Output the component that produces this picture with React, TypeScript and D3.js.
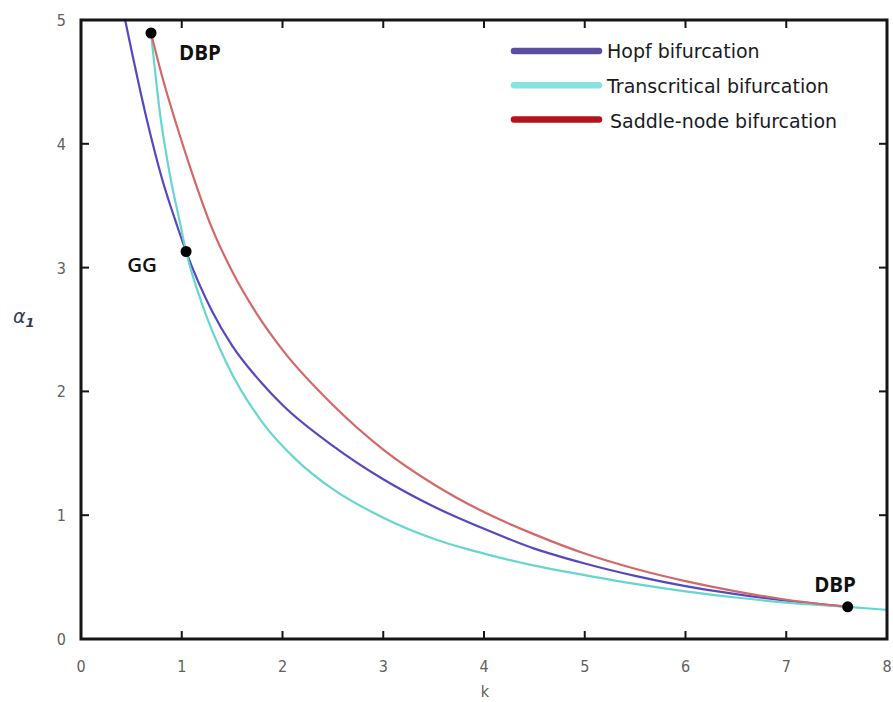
import React from "react";
import * as d3 from "d3";

const xTicks = [0, 1, 2, 3, 4, 5, 6, 7, 8];
const yTicks = [0, 1, 2, 3, 4, 5];

const hopfK = [0.42, 0.5, 0.655, 0.8, 0.953, 1.043, 1.3, 1.5, 1.78, 2.0, 2.5, 3.0, 3.5, 4.0, 4.5, 5.0, 5.5, 6.0, 6.5, 7.0, 7.61];
const hopfA = [5.07, 4.76, 4.19, 3.73, 3.34, 3.13, 2.65, 2.37, 2.08, 1.89, 1.56, 1.29, 1.07, 0.89, 0.73, 0.61, 0.51, 0.427, 0.363, 0.31, 0.26];

const transK = [0.695, 0.785, 0.88, 0.983, 1.043, 1.2, 1.45, 1.8, 2.14, 2.5, 3.0, 3.5, 4.0, 4.5, 5.0, 5.5, 6.0, 6.5, 7.0, 7.61, 8.0];
const transA = [4.895, 4.24, 3.76, 3.36, 3.13, 2.71, 2.22, 1.75, 1.445, 1.21, 0.98, 0.81, 0.69, 0.593, 0.516, 0.445, 0.385, 0.335, 0.294, 0.26, 0.235];

const saddleK = [0.695, 0.8, 0.953, 1.1, 1.28, 1.5, 1.75, 2.0, 2.5, 3.0, 3.5, 4.0, 4.5, 5.0, 5.5, 6.0, 6.5, 7.0, 7.61];
const saddleA = [4.895, 4.56, 4.14, 3.77, 3.36, 2.97, 2.62, 2.335, 1.89, 1.53, 1.25, 1.025, 0.845, 0.69, 0.567, 0.467, 0.385, 0.317, 0.26];

const seriesNames = ["Hopf bifurcation", "Transcritical bifurcation", "Saddle-node bifurcation"];
const lineColors = ["#5548c0", "#66d6ce", "#d46868"];
const legendColors = ["#5a4f9f", "#86e3e0", "#b3141b"];

const pointK = [0.695, 1.043, 7.61];
const pointA = [4.895, 3.13, 0.26];
const pointLabels = ["DBP", "GG", "DBP"];

export default function App() {
  const left = 81, right = 887, top = 20, bottom = 639;
  const x = d3.scaleLinear().domain([0, 8]).range([left, right]);
  const y = d3.scaleLinear().domain([0, 5]).range([bottom, top]);

  const mk = (ks: number[], as: number[]) =>
    d3
      .line<number>()
      .x((_, i) => x(ks[i]))
      .y((_, i) => y(as[i]))
      .curve(d3.curveMonotoneX)(ks.map((_, i) => i)) || "";

  const paths = [mk(hopfK, hopfA), mk(transK, transA), mk(saddleK, saddleA)];

  const labelPos: [number, number, string][] = [
    [179, 60, "start"],
    [157, 272, "end"],
    [856, 592, "end"],
  ];

  return (
    <svg width={893} height={702} style={{ position: "absolute", left: 0, top: 0, background: "#fff" }}>
      <defs>
        <clipPath id="plotclip">
          <rect x={left} y={top} width={right - left} height={bottom - top} />
        </clipPath>
      </defs>
      <rect x={0} y={0} width={893} height={702} fill="#fff" />
      <g clipPath="url(#plotclip)">
        {paths.map((p, i) => (
          <path key={i} d={p} fill="none" stroke={lineColors[i]} strokeWidth={2.2} />
        ))}
      </g>
      <rect x={left} y={top} width={right - left} height={bottom - top} fill="none" stroke="#151515" strokeWidth={3} />
      {xTicks.map((t) => (
        <g key={"x" + t}>
          <line x1={x(t)} x2={x(t)} y1={bottom} y2={bottom - 8} stroke="#151515" strokeWidth={2} />
          <line x1={x(t)} x2={x(t)} y1={top} y2={top + 8} stroke="#151515" strokeWidth={2} />
          <text x={x(t)} y={672} textAnchor="middle" fontFamily="DejaVu Sans Condensed, DejaVu Sans" fontSize={16} fill="#606060">
            {t}
          </text>
        </g>
      ))}
      {yTicks.map((t) => (
        <g key={"y" + t}>
          <line x1={left} x2={left + 8} y1={y(t)} y2={y(t)} stroke="#151515" strokeWidth={2} />
          <line x1={right} x2={right - 8} y1={y(t)} y2={y(t)} stroke="#151515" strokeWidth={2} />
          <text x={66} y={y(t) + 6} textAnchor="end" fontFamily="DejaVu Sans Condensed, DejaVu Sans" fontSize={16} fill="#606060">
            {t}
          </text>
        </g>
      ))}
      <text x={485} y={697} textAnchor="middle" fontFamily="DejaVu Sans Condensed, DejaVu Sans" fontSize={16} fill="#606060">
        k
      </text>
      <text x={13} y={323} fontFamily="DejaVu Sans" fontSize={19} fontStyle="italic" fill="#333a55">
        α
        <tspan fontSize={13} dy={4} fontWeight="bold">1</tspan>
      </text>
      {pointK.map((k, i) => (
        <g key={"p" + i}>
          <circle cx={x(k)} cy={y(pointA[i])} r={5.5} fill="#000" />
          <text
            x={labelPos[i][0]}
            y={labelPos[i][1]}
            textAnchor={labelPos[i][2] as any}
            fontFamily="Open Sans"
            fontWeight={i === 1 ? 600 : 700}
            fontSize={20.5}
            fill="#111"
          >
            {pointLabels[i]}
          </text>
        </g>
      ))}
      {seriesNames.map((n, i) => (
        <g key={"l" + i}>
          <line x1={514} x2={599} y1={51 + i * 34.3} y2={51 + i * 34.3} stroke={legendColors[i]} strokeWidth={6.5} strokeLinecap="round" />
          <text x={i === 2 ? 610 : 607} y={58 + i * 34.8} fontFamily="DejaVu Sans" fontSize={19} fill="#1a1a24">
            {n}
          </text>
        </g>
      ))}
    </svg>
  );
}
